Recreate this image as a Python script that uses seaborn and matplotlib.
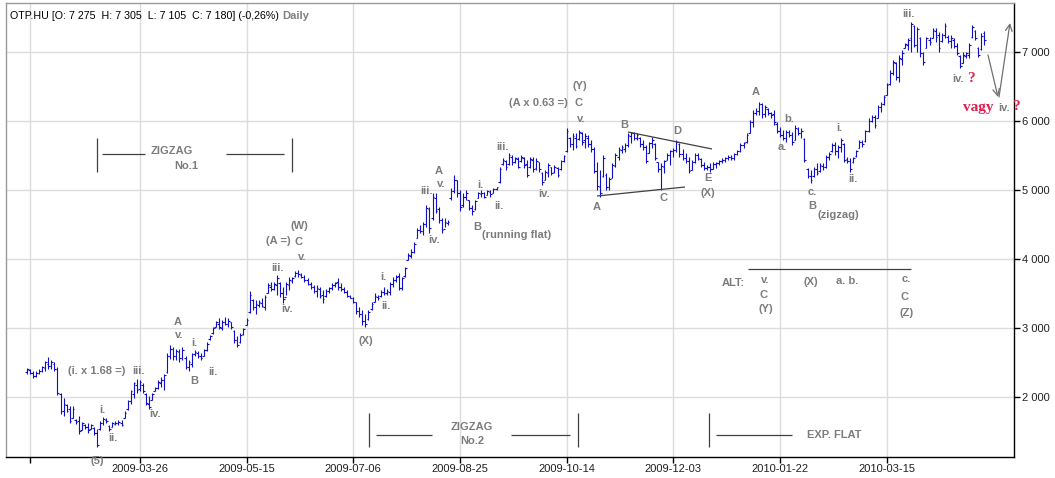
import matplotlib
matplotlib.use("Agg")
import matplotlib.pyplot as plt
import seaborn as sns
import numpy as np

# ---------------- data (daily OHLC, OTP.HU) ----------------
opens = [
    2360,2390,2350,2300,2350,2380,2420,2480,2450,2480,
    2400,2040,1800,1880,1820,1700,1660,1650,1520,1600,
    1560,1540,1550,1480,1530,1620,1670,1580,1560,1610,
    1620,1630,1700,1820,1940,2050,2180,2120,2180,2040,
    1900,1960,2090,2130,2200,2250,2360,2600,2690,2600,
    2650,2560,2560,2440,2480,2620,2640,2600,2600,2680,
    2840,2930,3020,3060,3000,3080,3060,3080,2950,2830,
    2790,2910,3040,3230,3400,3300,3330,3360,
    3300,3510,3600,3570,3620,3650,3500,3450,3620,3680,
    3760,3800,3770,3740,3690,3640,3600,3540,3570,3480,
    3460,3530,3580,3620,3660,3600,3560,3520,3460,3440,
    3370,3250,3200,3100,3130,3270,3380,3450,3460,3520,
    3500,3520,3640,3700,3760,3580,3760,3990,4050,4100,
    4300,4420,4400,4500,4720,4600,4880,4720,4560,4440,
    4520,4880,4980,5140,4950,4780,4900,4850,4740,4720,
    4880,4940,4950,4930,4970,4960,5010,5110,5370,5420,
    5380,5480,5400,5450,5420,5470,5380,5330,5440,5320,
    5400,5250,5150,5250,5330,5260,5320,5300,5420,5560,
    5760,5660,5760,5740,5820,5720,5760,5660,5600,5280,
    5050,5200,5220,5040,5180,5350,5480,5580,5600,5650,
    5780,5820,5760,5760,5660,5620,5540,5680,5660,5400,
    5300,5340,5440,5500,5560,5580,5670,5520,5470,5420,
    5290,5400,5500,5450,5360,5320,5340,5300,5380,5390,
    5420,5440,5460,5480,5460,5520,5560,5650,5690,5830,
    5990,
    6120,6150,6240,6100,6170,6110,6100,5960,5860,5800,
    5760,5840,5800,5730,5880,5820,5740,5300,5200,5200,
    5300,5280,5350,5330,5480,5560,5650,5560,5620,5660,
    5450,5420,5400,5490,5610,5700,5710,5860,6000,6060,
    6050,6200,6250,6380,6530,6700,6840,6640,6900,7060,
    7100,7200,7380,7100,7200,6980,7060,7180,7200,7300,
    7250,7160,7240,7220,7160,7180,7080,6940,6840,6940,
    6960,7220,7300,7060,7040,7275,
]
highs = [
    2420,2410,2380,2370,2400,2450,2520,2580,2540,2500,
    2440,2060,1980,1900,1870,1870,1680,1720,1640,1610,
    1630,1610,1560,1530,1650,1710,1700,1600,1640,1650,
    1660,1670,1790,1960,2100,2220,2260,2250,2200,2060,
    2010,2060,2150,2240,2290,2340,2640,2760,2730,2700,
    2690,2720,2590,2540,2640,2680,2670,2640,2700,2790,
    2900,3020,3100,3140,3120,3160,3140,3090,2970,2880,
    2930,3000,3140,3530,3420,3400,3410,3440,
    3480,3650,3670,3670,3770,3670,3600,3670,3740,3740,
    3820,3840,3790,3770,3720,3670,3620,3620,3600,3550,
    3570,3600,3650,3670,3720,3650,3600,3550,3480,3450,
    3380,3310,3260,3210,3260,3380,3500,3480,3550,3600,
    3570,3670,3740,3770,3790,3740,3890,4080,4150,4250,
    4450,4490,4540,4780,4760,4950,4950,4760,4590,4590,
    4570,5025,5220,5145,5000,4950,5000,4860,4780,4860,
    4975,5000,4975,5000,5000,5025,5050,5340,5460,5435,
    5530,5510,5483,5483,5507,5483,5435,5483,5483,5459,
    5410,5266,5290,5386,5338,5362,5338,5435,5507,5894,
    5773,5821,5821,5870,5845,5821,5790,5725,5628,5410,
    5290,5507,5241,5193,5386,5531,5628,5652,5676,5821,
    5845,5845,5821,5773,5725,5652,5700,5773,5676,5410,
    5386,5435,5531,5580,5604,5725,5676,5600,5531,5483,
    5435,5531,5531,5459,5410,5362,5386,5400,5410,5435,
    5459,5483,5507,5507,5531,5580,5676,5700,5821,6014,
    6159,
    6184,6280,6256,6232,6184,6135,6160,5990,5918,5870,
    5870,5870,5845,5942,5918,5894,5749,5314,5290,5338,
    5386,5386,5386,5507,5556,5677,5700,5652,5749,5677,
    5483,5459,5483,5580,5725,5725,5870,6039,6087,6087,
    6232,6280,6377,6546,6739,6884,6860,6956,7029,7125,
    7198,7440,7391,7367,7222,7005,7222,7222,7343,7343,
    7294,7270,7415,7246,7246,7198,7125,6956,7005,7005,
    7125,7391,7319,7077,7270,7305,
]
lows = [
    2340,2330,2280,2290,2330,2360,2380,2400,2410,2380,
    2030,1760,1720,1780,1620,1690,1610,1460,1520,1540,
    1480,1530,1450,1270,1520,1600,1630,1500,1560,1590,
    1600,1580,1690,1810,1900,1980,2060,2090,2060,1890,
    1830,1950,2080,2110,2150,2100,2350,2550,2540,2530,
    2510,2540,2400,2380,2440,2590,2560,2540,2600,2670,
    2830,2920,3010,2990,2970,3040,3020,2990,2780,2720,
    2780,2900,3040,3220,3260,3210,3300,3300,
    3260,3500,3530,3550,3480,3450,3360,3480,3550,3650,
    3745,3745,3720,3670,3620,3570,3500,3450,3430,3360,
    3450,3500,3550,3600,3550,3530,3500,3450,3430,3360,
    3210,3165,3040,3020,3120,3260,3380,3410,3450,3480,
    3480,3480,3600,3670,3550,3550,3745,3990,4010,4080,
    4300,4370,4350,4470,4370,4570,4660,4520,4370,4470,
    4490,4860,4950,4905,4690,4760,4860,4710,4640,4710,
    4880,4905,4880,4930,4905,4950,5000,5100,5360,5290,
    5360,5360,5386,5314,5410,5314,5193,5314,5266,5290,
    5266,5072,5145,5193,5217,5241,5193,5290,5410,5555,
    5628,5580,5604,5725,5652,5604,5620,5555,5241,5000,
    4903,5193,5000,5000,5169,5338,5435,5531,5555,5628,
    5676,5725,5725,5628,5580,5386,5531,5604,5435,5266,
    5000,5241,5435,5362,5483,5555,5483,5430,5386,5241,
    5290,5386,5435,5338,5290,5290,5266,5300,5314,5362,
    5386,5410,5435,5435,5435,5507,5555,5604,5676,5821,
    5918,
    6087,6087,6039,6063,6087,6039,5942,5821,5773,5725,
    5700,5773,5652,5725,5797,5749,5411,5169,5097,5193,
    5217,5266,5290,5314,5435,5556,5507,5459,5556,5411,
    5387,5266,5387,5483,5604,5628,5700,5845,5990,5894,
    6039,6135,6232,6377,6522,6666,6594,6570,6811,7053,
    7029,7005,7077,7005,6932,6811,7053,7101,7198,7150,
    7005,7150,7198,7125,7053,7053,6956,6763,6835,6908,
    6908,7198,7174,6932,7029,7105,
]
closes = [
    2400,2350,2300,2350,2380,2430,2500,2450,2500,2400,
    2060,1800,1900,1800,1650,1820,1640,1500,1620,1560,
    1520,1590,1480,1300,1620,1680,1650,1540,1620,1630,
    1640,1600,1770,1940,2080,2200,2100,2220,2080,1920,
    1860,2040,2130,2220,2250,2320,2600,2700,2600,2660,
    2560,2680,2440,2500,2620,2650,2600,2560,2680,2770,
    2880,3000,3080,3020,3090,3060,3100,3010,2820,2760,
    2900,2980,3120,3480,3300,3350,3380,3320,
    3450,3620,3560,3640,3720,3500,3420,3640,3700,3720,
    3800,3780,3740,3690,3640,3600,3540,3580,3470,3420,
    3540,3580,3620,3650,3590,3560,3520,3470,3440,3380,
    3240,3200,3100,3060,3230,3350,3460,3430,3520,3500,
    3540,3640,3700,3740,3580,3720,3870,4060,4100,4220,
    4420,4400,4500,4740,4450,4900,4700,4560,4420,4540,
    4540,4980,5150,4950,4760,4900,4950,4740,4700,4840,
    4950,4960,4900,4980,4940,5010,5040,5300,5440,5330,
    5500,5400,5460,5340,5480,5360,5220,5450,5300,5420,
    5300,5120,5260,5360,5240,5340,5220,5420,5490,5850,
    5660,5780,5640,5840,5700,5780,5660,5600,5280,5060,
    4950,5460,5040,5160,5360,5500,5600,5620,5650,5790,
    5820,5760,5800,5660,5620,5420,5680,5720,5460,5300,
    5350,5420,5510,5560,5580,5700,5520,5470,5420,5280,
    5400,5500,5460,5360,5320,5340,5300,5380,5390,5420,
    5440,5460,5480,5460,5520,5560,5650,5680,5800,5990,
    6120,
    6150,6250,6100,6200,6120,6080,5980,5860,5800,5760,
    5840,5800,5700,5900,5820,5860,5430,5200,5150,5300,
    5250,5360,5330,5480,5520,5650,5560,5620,5720,5440,
    5420,5300,5460,5560,5700,5660,5850,6000,6060,5940,
    6200,6250,6350,6520,6700,6850,6640,6920,6990,7110,
    7180,7400,7100,7330,6980,6860,7200,7150,7320,7220,
    7060,7240,7380,7160,7200,7080,6980,6800,6960,6980,
    7100,7360,7200,6960,7230,7180,
]
date_labels = ["", "2009-03-26", "2009-05-15", "2009-07-06", "2009-08-25",
               "2009-10-14", "2009-12-03", "2010-01-22", "2010-03-15"]
date_label_bars = [1, 37, 72, 107, 142, 177, 212, 247, 282]
price_ticks = [2000, 3000, 4000, 5000, 6000, 7000]

# ---------------- style ----------------
sns.set_theme(style="white")
plt.rcParams['font.family'] = ['Liberation Sans', 'DejaVu Sans']

W, H = 1055, 478
fig = plt.figure(figsize=(W / 100, H / 100), dpi=100)
ax = fig.add_axes([6 / W, (H - 457) / H, (1014 - 6) / W, (457 - 3) / H])

BLUE = '#1010c8'
GRAY = '#7c7c7c'
RED = '#e0204e'

x = np.arange(len(closes))
ax.vlines(x, lows, highs, color=BLUE, lw=0.8)
ax.hlines(opens, x - 0.55, x, color=BLUE, lw=0.8)
ax.hlines(closes, x, x + 0.55, color=BLUE, lw=0.8)

# pixel scale of the reference chart
X0, XS = 27.0, 3.049
Y0, YS = 52.0, 14.493


def P(px, py):
    return ((px - X0) / XS, 7000 - (py - Y0) * YS)


ax.set_xlim(P(6, 0)[0], P(1014, 0)[0])
ax.set_ylim(P(0, 457)[1], P(0, 3)[1])

# grid
ax.set_xticks(date_label_bars)
ax.set_xticklabels(date_labels, fontsize=8, color='#202020')
ax.set_yticks(price_ticks)
ax.set_yticklabels([f"{v:,}".replace(",", " ") for v in price_ticks], fontsize=8, color='#202020')
ax.yaxis.tick_right()
ax.grid(True, color='#dcdcdc', lw=1.0)
ax.set_axisbelow(True)
ax.tick_params(axis='y', which='both', right=True, length=4, width=1, color='black', pad=2)
ax.tick_params(axis='x', which='both', bottom=True, length=4, width=1, color='black', pad=1)
for s in ['bottom', 'right']:
    ax.spines[s].set_color('black')
    ax.spines[s].set_linewidth(1.0)
for s in ['top', 'left']:
    ax.spines[s].set_color('#9a9a9a')
    ax.spines[s].set_linewidth(1.0)


def lab(px, py, s, color=GRAY, ha='center', size=8, **kw):
    ax.text(*P(px, py), s, ha=ha, va='center', color=color, fontsize=size,
            fontweight='bold', clip_on=False, **kw)


def seg(p1, p2, color='#404040', lw=0.9):
    a, b = P(*p1), P(*p2)
    ax.plot([a[0], b[0]], [a[1], b[1]], color=color, lw=lw, clip_on=False,
            solid_capstyle='butt')


labels = [
    ("(i. x 1.68 =)", 97, 371), ("iii.", 139, 371), ("i.", 102, 410), ("ii.", 113, 438),
    ("(5)", 97, 461), ("iv.", 155, 414),
    ("A", 178, 322), ("v.", 179, 335), ("i.", 194, 343), ("B", 194, 381), ("ii.", 213, 372),
    ("(W)", 299, 226), ("(A =)", 278, 241), ("C", 299, 242), ("v.", 302, 257),
    ("iii.", 278, 268), ("iv.", 287, 309),
    ("(X)", 366, 341), ("i.", 383, 277), ("ii.", 386, 306),
    ("A", 439, 171), ("v.", 441, 184), ("iii.", 427, 191), ("iv.", 434, 240),
    ("B", 477, 227), ("i.", 480, 185), ("ii.", 499, 206),
    ("iii.", 503, 147), ("iv.", 544, 194),
    ("(Y)", 580, 86), ("(A x 0.63 =)", 538, 103), ("C", 579, 103), ("v.", 581, 119),
    ("B", 624, 125), ("D", 677, 131), ("A", 597, 207), ("C", 664, 198),
    ("E", 708, 178), ("(X)", 708, 193),
    ("A", 756, 92), ("b.", 789, 119), ("a.", 782, 147), ("c.", 812, 192), ("B", 812, 206),
    ("(zigzag)", 838, 215), ("i.", 839, 128), ("ii.", 853, 179),
    ("ALT:", 733, 283), ("v.", 765, 280), ("C", 764, 295), ("(Y)", 766, 309),
    ("(X)", 811, 282), ("a. b.", 847, 281), ("c.", 906, 279), ("C", 905, 297), ("(Z)", 907, 313),
    ("iii.", 909, 14), ("iv.", 958, 79),
    ("ZIGZAG", 172, 151), ("No.1", 186, 166),
    ("ZIGZAG", 472, 427), ("No.2", 472, 441),
    ("EXP. FLAT", 834, 435),
]
for s, px, py in labels:
    lab(px, py, s)
lab(482, 235, "(running flat)", ha='left')
lab(1004, 108, "iv.")

serif = ['Liberation Serif', 'DejaVu Serif']
ax.text(*P(971, 78), "?", ha='center', va='center', color=RED, fontsize=11,
        fontweight='bold', family=serif, clip_on=False)
ax.text(*P(978, 107), "vagy", ha='center', va='center', color=RED, fontsize=11,
        fontweight='bold', family=serif, clip_on=False)
ax.text(*P(1016, 106), "?", ha='center', va='center', color=RED, fontsize=11,
        fontweight='bold', family=serif, clip_on=False)

# bracket lines
for a, b in [((97, 138), (97, 172)), ((102, 154), (145, 154)), ((226, 154), (284, 154)),
             ((292, 138), (292, 172)),
             ((369, 413), (369, 447)), ((376, 435), (432, 435)), ((511, 435), (570, 435)),
             ((578, 413), (578, 447)),
             ((709, 413), (709, 447)), ((716, 435), (792, 435)),
             ((748, 269), (911, 269)),
             ((597, 196), (685, 187)), ((628, 132), (712, 149))]:
    seg(a, b)

# projection arrows
ax.annotate("", xy=P(998, 97), xytext=P(988, 55),
            arrowprops=dict(arrowstyle='->', color='#707070', lw=0.9, shrinkA=0, shrinkB=0))
ax.annotate("", xy=P(1010, 23), xytext=P(999, 97),
            arrowprops=dict(arrowstyle='->', color='#707070', lw=0.9, shrinkA=0, shrinkB=0))

# header
head = fig.text(10 / W, 1 - 16 / H, "OTP.HU [O: 7 275  H: 7 305  L: 7 105  C: 7 180] (-0,26%)",
                fontsize=7.7, color='black', va='center', ha='left')
fig.canvas.draw()
bb = head.get_window_extent()
fig.text((bb.x1 + 3) / W, 1 - 16 / H, "Daily", fontsize=8, color='#808080',
         fontweight='bold', va='center', ha='left')

fig.savefig("out.png", dpi=100)
